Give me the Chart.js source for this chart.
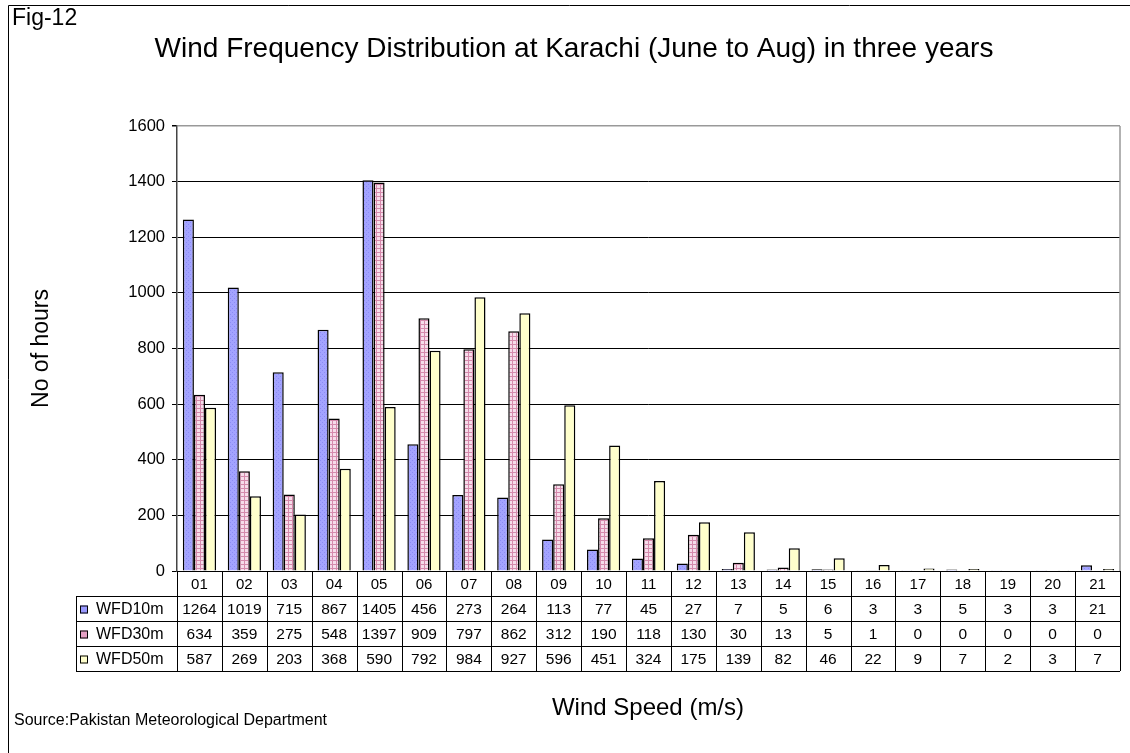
<!DOCTYPE html>
<html lang="en">
<head>
    <meta charset="UTF-8">
    <title>Wind Frequency Distribution at Karachi</title>
    <script src="https://cdn.jsdelivr.net/npm/chart.js"></script>
    <style>
        body {
            margin: 0;
            background: #ffffff;
            font-family: 'Liberation Sans', Arial, sans-serif;
        }

        .chart-container {
            position: relative;
            width: 1130px;
            height: 753px;
        }
    </style>
</head>
<body>
    <div class="chart-container">
        <canvas id="myChart"></canvas>
    </div>
</body>
<script>

    const categories = ['01', '02', '03', '04', '05', '06', '07', '08', '09', '10', '11',
        '12', '13', '14', '15', '16', '17', '18', '19', '20', '21'];
    const seriesNames = ['WFD10m', 'WFD30m', 'WFD50m'];
    const wfd10 = [1264, 1019, 715, 867, 1405, 456, 273, 264, 113, 77, 45, 27, 7, 5, 6, 3, 3, 5, 3, 3, 21];
    const wfd30 = [634, 359, 275, 548, 1397, 909, 797, 862, 312, 190, 118, 130, 30, 13, 5, 1, 0, 0, 0, 0, 0];
    const wfd50 = [587, 269, 203, 368, 590, 792, 984, 927, 596, 451, 324, 175, 139, 82, 46, 22, 9, 7, 2, 3, 7];
    const yTicks = [0, 200, 400, 600, 800, 1000, 1200, 1400, 1600];

    const FONT = "'Liberation Sans', Arial, sans-serif";

    // small fill patterns like the excel ones
    function makePattern(kind) {
        const c = document.createElement('canvas');
        c.width = 4;
        c.height = 4;
        const g = c.getContext('2d');
        if (kind === 'blue') {
            g.fillStyle = '#a3a3ff';
            g.fillRect(0, 0, 4, 4);
            g.fillStyle = '#8c8cf5';
            g.fillRect(0, 0, 1, 1);
            g.fillRect(2, 2, 1, 1);
        } else if (kind === 'pink') {
            g.fillStyle = '#f6dcea';
            g.fillRect(0, 0, 4, 4);
            g.fillStyle = '#d58aac';
            g.fillRect(0, 0, 4, 1);
            g.fillRect(0, 0, 1, 4);
        } else {
            g.fillStyle = '#ffffcc';
            g.fillRect(0, 0, 4, 4);
        }
        return g.createPattern(c, 'repeat');
    }

    const fills = [makePattern('blue'), makePattern('pink'), makePattern('yellow')];
    const swatchColors = ['#9999ff', '#e6a0c4', '#ffffcc'];

    const frame = {
        id: 'frame',
        beforeDraw(chart) {
            const g = chart.ctx;
            g.save();
            g.strokeStyle = '#000';
            g.lineWidth = 1;
            g.beginPath();
            g.moveTo(8.5, 753);
            g.lineTo(8.5, 5.5);
            g.lineTo(1130, 5.5);
            g.stroke();

            g.fillStyle = '#000';
            g.textBaseline = 'middle';
            g.textAlign = 'left';
            g.font = '23px ' + FONT;
            g.fillText('Fig-12', 12, 19);

            g.textAlign = 'center';
            g.font = '28px ' + FONT;
            g.fillText('Wind Frequency Distribution at Karachi (June to Aug) in three years', 574, 49);
            g.restore();
        },
        afterDraw(chart) {
            const g = chart.ctx;
            const area = chart.chartArea;
            const x = chart.scales.x;
            const data = [wfd10, wfd30, wfd50];
            const step = (area.right - area.left) / categories.length;
            const rowH = 25;
            const tableLeft = 76;
            g.save();

            // plot area right border
            g.strokeStyle = '#999';
            g.lineWidth = 1.5;
            g.beginPath();
            g.moveTo(area.right, area.top);
            g.lineTo(area.right, area.bottom);
            g.stroke();

            // data table
            g.strokeStyle = '#000';
            g.lineWidth = 1;
            g.beginPath();
            for (let r = 0; r <= 4; r++) {
                const y = Math.round(area.bottom + r * rowH) + 0.5;
                g.moveTo(r === 0 ? area.left : tableLeft, y);
                g.lineTo(area.right, y);
            }
            for (let i = 0; i <= categories.length; i++) {
                const xx = Math.round(area.left + i * step) + 0.5;
                g.moveTo(xx, area.bottom);
                g.lineTo(xx, area.bottom + 4 * rowH);
            }
            g.moveTo(tableLeft + 0.5, area.bottom + rowH);
            g.lineTo(tableLeft + 0.5, area.bottom + 4 * rowH);
            g.stroke();

            g.fillStyle = '#000';
            g.textBaseline = 'middle';
            g.textAlign = 'center';
            g.font = '15px ' + FONT;
            categories.forEach((c, i) => {
                g.fillText(c, x.getPixelForValue(i), area.bottom + rowH / 2 + 1);
            });
            g.font = '15.5px ' + FONT;
            data.forEach((vals, r) => {
                const y = area.bottom + (r + 1.5) * rowH + 1;
                vals.forEach((v, i) => {
                    g.fillText(String(v), x.getPixelForValue(i), y);
                });
            });

            // legend keys in the table
            g.textAlign = 'left';
            g.font = '16px ' + FONT;
            seriesNames.forEach((name, r) => {
                const y = area.bottom + (r + 1.5) * rowH;
                g.fillStyle = swatchColors[r];
                g.fillRect(80, y - 3, 8, 8);
                g.strokeStyle = '#000';
                g.lineWidth = 1;
                g.strokeRect(80.5, y - 2.5, 7, 7);
                g.fillStyle = '#000';
                g.fillText(name, 96, y + 1);
            });

            // axis title and source
            g.textAlign = 'center';
            g.font = '24px ' + FONT;
            g.fillText('Wind Speed (m/s)', 648, 708);
            g.textAlign = 'left';
            g.font = '16px ' + FONT;
            g.fillText('Source:Pakistan Meteorological Department', 14, 721);
            g.restore();
        }
    };

    const config = {
        type: 'bar',
        data: {
            labels: categories,
            datasets: [wfd10, wfd30, wfd50].map((vals, i) => ({
                label: seriesNames[i],
                data: vals,
                backgroundColor: fills[i],
                borderColor: '#000',
                borderWidth: 1.5,
                borderSkipped: 'bottom',
                barPercentage: 1.0,
                categoryPercentage: 0.74
            }))
        },
        options: {
            animation: false,
            responsive: true,
            maintainAspectRatio: false,
            events: [],
            layout: {
                padding: { left: 28, right: 10, top: 126, bottom: 182 }
            },
            plugins: {
                legend: { display: false },
                tooltip: { enabled: false },
                title: { display: false }
            },
            scales: {
                x: {
                    ticks: { display: false },
                    grid: { display: false },
                    border: { display: false },
                    afterFit(scale) { scale.height = 0; }
                },
                y: {
                    min: 0,
                    max: 1600,
                    afterBuildTicks(scale) {
                        scale.ticks = yTicks.map(v => ({ value: v }));
                    },
                    afterFit(scale) { scale.width = 149; },
                    ticks: {
                        color: '#000',
                        font: { family: FONT, size: 16.5 },
                        padding: 7,
                        callback: (v) => String(v)
                    },
                    grid: {
                        color: (ctx) => ctx.tick && ctx.tick.value === 1600 ? '#999' : '#000',
                        lineWidth: (ctx) => ctx.tick && ctx.tick.value === 1600 ? 1.5 : 1,
                        tickLength: 5,
                        tickColor: '#000'
                    },
                    border: { color: '#444', width: 1.5 },
                    title: {
                        display: true,
                        text: 'No of hours',
                        color: '#000',
                        font: { family: FONT, size: 23 },
                        padding: 0
                    }
                }
            }
        },
        plugins: [frame]
    };

    const ctx = document.getElementById('myChart');
    const chart = new Chart(ctx, config);

</script>
</html>
